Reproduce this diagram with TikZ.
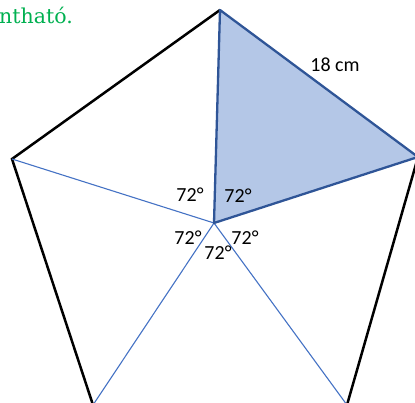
\documentclass[tikz,border=0pt]{standalone}
\usepackage{fontspec}
\setmainfont{Carlito}
\newfontfamily\greenserif{DejaVu Serif}
\definecolor{pgreen}{RGB}{0,176,80}
\definecolor{tfill}{RGB}{180,199,231}
\definecolor{tedge}{RGB}{47,85,151}
\definecolor{spokeblue}{RGB}{68,114,196}
\begin{document}
\begin{tikzpicture}[x=1pt,y=-1pt,
  outer/.style={line width=2.5pt,black,line cap=round},
  spoke/.style={line width=1.1pt,draw=spokeblue},
  tri/.style={line width=2.3pt,draw=tedge,fill=tfill,line join=round},
  lab/.style={font=\fontsize{20}{22}\selectfont,inner sep=0pt}]
\useasboundingbox (0,0) rectangle (415,403);
\begin{scope}
\clip (0,0) rectangle (415,403);
\coordinate (O) at (214,223);
\coordinate (T) at (220,10);
\coordinate (R) at (418,157);
\coordinate (BR) at (347,405);
\coordinate (BL) at (93,405);
\coordinate (L) at (12,159);
\draw[outer] (T) -- (L) -- (BL);
\draw[outer] (BR) -- (R);
\draw[spoke] (O) -- (L);
\draw[spoke] (O) -- (BL);
\draw[spoke] (O) -- (BR);
\filldraw[tri] (O) -- (T) -- (R) -- cycle;
\end{scope}
\node[anchor=base east,inner sep=0pt,text=pgreen,font=\greenserif\fontsize{20.5}{24}\selectfont] (g) at (73,24) {ntható.};
\node[lab] (len) at (335,65) {18 cm};
\node[lab] (a1) at (190,195) {72°};
\node[lab] (a2) at (238,196) {72°};
\node[lab] (a3) at (188,238) {72°};
\node[lab] (a4) at (245,238) {72°};
\node[lab] (a5) at (218,253) {72°};
\end{tikzpicture}
\end{document}
